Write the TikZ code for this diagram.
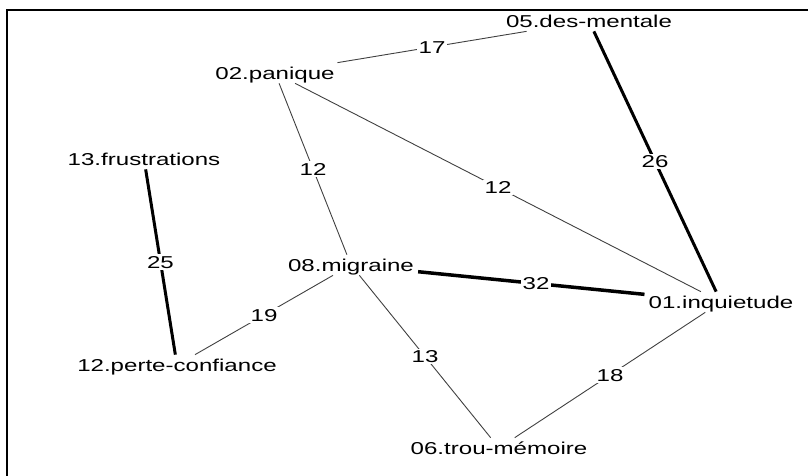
\documentclass[tikz,border=0pt]{standalone}
\usepackage{fontspec}
\setmainfont{Liberation Sans}[FakeStretch=1.4]
\usetikzlibrary{calc}
\begin{document}
\begin{tikzpicture}[x=1pt,y=-1pt,
  txt/.style={font=\fontsize{17.2}{20}\selectfont, text height=12.3pt, text depth=0pt},
  vert/.style={txt, inner sep=4pt},
  wlabel/.style={txt, fill=white, inner sep=1.5pt},
  weak/.style={draw=black!75, line width=0.9pt},
  strong/.style={draw=black, line width=3pt},
  strongest/.style={draw=black, line width=3.5pt}]
  \useasboundingbox (0,0) rectangle (808,476);
  % plot frame (only top and left sides fall inside the page)
  \draw[line width=2pt] (7,490) -- (7,10) -- (820,10);

  % vertices
  \node[vert] (n05) at (589,21)  {05.des-mentale};
  \node[vert] (n02) at (275,73)  {02.panique};
  \node[vert] (n13) at (144,159) {13.frustrations};
  \node[vert] (n08) at (351,265) {08.migraine};
  \node[vert] (n01) at (721,302) {01.inquietude};
  \node[vert] (n12) at (177,365) {12.perte-confiance};
  \node[vert] (n06) at (499,448) {06.trou-mémoire};

  % edges
  \draw[weak]      (n02) -- (n05);
  \draw[strong]    (n05) -- (n01);
  \draw[weak]      (n02) -- (n08);
  \draw[weak]      (n02) -- (n01);
  \draw[strong]    (n13) -- (n12);
  \draw[strongest] (n08) -- (n01);
  \draw[weak]      (n12) -- (n08);
  \draw[weak]      (n08) -- (n06);
  \draw[weak]      (n01) -- (n06);

  % edge weights at the midpoints
  \node[wlabel] (w17) at ($(n02)!0.5!(n05)$) {17};
  \node[wlabel] (w26) at ($(n05)!0.5!(n01)$) {26};
  \node[wlabel] (w12a) at ($(n02)!0.5!(n08)$) {12};
  \node[wlabel] (w12b) at ($(n02)!0.5!(n01)$) {12};
  \node[wlabel] (w25) at ($(n13)!0.5!(n12)$) {25};
  \node[wlabel] (w32) at ($(n08)!0.5!(n01)$) {32};
  \node[wlabel] (w19) at ($(n12)!0.5!(n08)$) {19};
  \node[wlabel] (w13) at ($(n08)!0.5!(n06)$) {13};
  \node[wlabel] (w18) at ($(n01)!0.5!(n06)$) {18};
\end{tikzpicture}
\end{document}
